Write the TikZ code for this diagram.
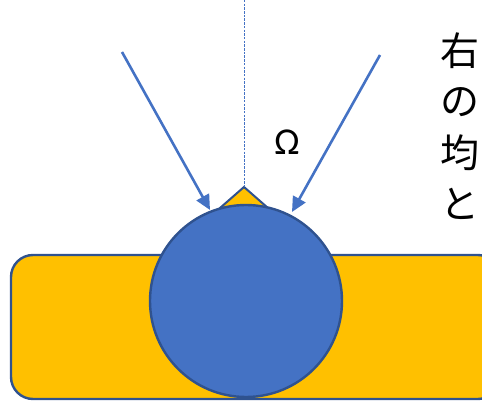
\documentclass[tikz,border=0pt]{standalone}
\usepackage{fontspec}
\setmainfont{Carlito}
\newfontfamily\jpfont{Noto Sans CJK JP}
\usetikzlibrary{arrows.meta}
\definecolor{gold}{HTML}{FFC000}
\definecolor{blu}{HTML}{4472C4}
\definecolor{edge}{HTML}{2F528F}
\tikzset{
  shape fill/.style={line width=2.4pt, draw=edge},
  ray/.style={draw=blu, line width=2.6pt, -{Triangle[length=15pt,width=14pt]}},
  axis/.style={draw=blu, line width=1pt, dash pattern=on 2.5pt off 1.2pt},
  jp/.style={font=\jpfont\fontsize{39}{39}\selectfont, inner sep=0pt, anchor=center}
}
\begin{document}
\begin{tikzpicture}[x=1pt,y=-1pt]
\useasboundingbox (0,0) rectangle (482,403);
\begin{scope}
\clip (0,0) rectangle (482,403);
% base slab
\draw[shape fill, fill=gold, rounded corners=22pt] (11,255) rectangle (500,399);
% small triangle
\draw[shape fill, fill=gold, line width=2pt] (244,187) -- (268,208) -- (220,208) -- cycle;
% sphere
\node[shape fill, fill=blu, circle, minimum size=192pt, inner sep=0pt] (ball) at (246,301) {};
% normal axis
\coordinate (top) at (244,0);
\coordinate (apex) at (244,187);
\draw[axis] (top) -- (apex);
% rays
\coordinate (l0) at (122,52);
\coordinate (l1) at (210,210);
\coordinate (r0) at (380,55);
\coordinate (r1) at (292,212);
\draw[ray] (l0) -- (l1);
\draw[ray] (r0) -- (r1);
% labels
\node[font=\fontsize{38}{38}\selectfont, inner sep=0pt] (omega) at (287,142) {Ω};
\node[jp] (c1) at (460,51) {右};
\node[jp] (c2) at (460,102) {の};
\node[jp] (c3) at (460,153) {均};
\node[jp] (c4) at (460,204) {と};
\end{scope}
\end{tikzpicture}
\end{document}
